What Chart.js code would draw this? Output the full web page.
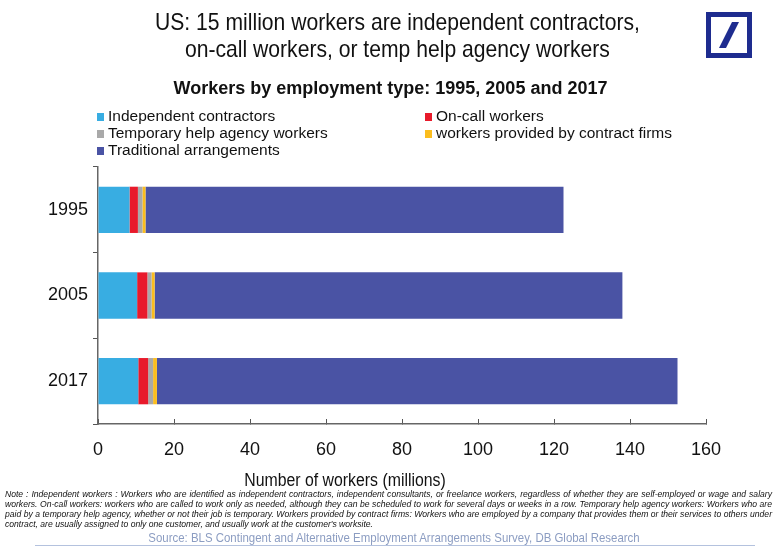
<!DOCTYPE html>
<html>
<head>
<meta charset="utf-8">
<script src="https://cdn.jsdelivr.net/npm/chart.js@4"></script>
<style>
  body { margin: 0; background: #fff; }
  #wrap { position: relative; width: 777px; height: 546px; overflow: hidden; font-family: "Liberation Sans Narrow", "Arial Narrow", "Liberation Sans", Arial, sans-serif; color: #111; }
  #chart { position: absolute; left: 0; top: 0; }
  .title { position: absolute; left: 0; width: 795px; top: 8px; text-align: center; font-size: 24px; line-height: 27px; transform: scaleX(0.88); transform-origin: 397px 0; }
  .subtitle { position: absolute; left: 0; width: 781px; top: 78px; text-align: center; font-size: 18px; font-weight: bold; }
  .leg { position: absolute; font-size: 15.5px; line-height: 17px; white-space: nowrap; }
  .leg i { display: inline-block; width: 7px; height: 8px; margin-right: 4px; }
  .note { position: absolute; left: 5px; top: 489px; width: 767px; font-size: 8.6px; line-height: 10px; font-style: italic; text-align: justify; }
  .source { position: absolute; left: 0; width: 788px; top: 530px; text-align: center; font-size: 13px; color: #8c9dc2; transform: scaleX(0.88); transform-origin: 394px 0; }
  .rule { position: absolute; left: 35px; width: 720px; top: 545px; height: 1px; background: #b4c2de; }
  .logo { position: absolute; left: 706px; top: 12px; }
</style>
</head>
<body>
<div id="wrap">
  <canvas id="chart" width="777" height="546"></canvas>
  <div class="title">US: 15 million workers are independent contractors,<br>on-call workers, or temp help agency workers</div>
  <div class="subtitle">Workers by employment type: 1995, 2005 and 2017</div>
  <div id="legend"></div>
  <div class="note">Note : Independent workers : Workers who are identified as independent contractors, independent consultants, or freelance workers, regardless of whether they are self-employed or wage and salary workers. On-call workers: workers who are called to work only as needed, although they can be scheduled to work for several days or weeks in a row. Temporary help agency workers: Workers who are paid by a temporary help agency, whether or not their job is temporary. Workers provided by contract firms: Workers who are employed by a company that provides them or their services to others under contract, are usually assigned to only one customer, and usually work at the customer's worksite.</div>
  <div class="source">Source: BLS Contingent and Alternative Employment Arrangements Survey, DB Global Research</div>
  <div class="rule"></div>
  <svg class="logo" width="46" height="46" viewBox="0 0 46 46">
    <rect x="2.5" y="2.5" width="41" height="41" fill="none" stroke="#1e2c8f" stroke-width="5"/>
    <polygon points="26,10 33,10 20,36 13,36" fill="#1e2c8f"/>
  </svg>
</div>
<script>
// Data (millions of workers)
const years = ['1995', '2005', '2017'];
const independentContractors = [8.3, 10.3, 10.6];
const onCallWorkers = [2.2, 2.7, 2.6];
const tempAgencyWorkers = [1.2, 1.1, 1.3];
const contractFirmWorkers = [0.8, 0.8, 1.0];
const traditionalArrangements = [110.0, 123.1, 137.0];
const xTicks = [0, 20, 40, 60, 80, 100, 120, 140, 160];

const seriesNames = ['Independent contractors', 'On-call workers', 'Temporary help agency workers', 'workers provided by contract firms', 'Traditional arrangements'];
const seriesValues = [independentContractors, onCallWorkers, tempAgencyWorkers, contractFirmWorkers, traditionalArrangements];
const seriesColors = ['#38ade2', '#e81a2b', '#a9a9a9', '#fbbd1e', '#4a53a4'];

// legend laid out in two columns like the original
const legendPos = [[97, 107], [425, 107], [97, 124], [425, 124], [97, 141]];
const legendEl = document.getElementById('legend');
seriesNames.forEach(function (name, i) {
    const d = document.createElement('div');
    d.className = 'leg';
    d.style.left = legendPos[i][0] + 'px';
    d.style.top = legendPos[i][1] + 'px';
    d.innerHTML = '<i style="background:' + seriesColors[i] + '"></i>' + name;
    legendEl.appendChild(d);
});

const font = "'Liberation Sans Narrow', 'Arial Narrow', 'Liberation Sans', Arial, sans-serif";

// x-axis title sits off-centre in the original, so draw it ourselves (squeezed like Arial Narrow)
const axisTitle = {
    id: 'axisTitle',
    afterDraw(chart) {
        const ctx = chart.ctx;
        ctx.save();
        ctx.translate(345, 481);
        ctx.scale(0.88, 1);
        ctx.font = '18px ' + font;
        ctx.fillStyle = '#111';
        ctx.textAlign = 'center';
        ctx.textBaseline = 'middle';
        ctx.fillText('Number of workers (millions)', 0, 0);
        ctx.restore();
    }
};

new Chart(document.getElementById('chart').getContext('2d'), {
    type: 'bar',
    data: {
        labels: years,
        datasets: seriesNames.map(function (name, i) {
            return {
                label: name,
                data: seriesValues[i],
                backgroundColor: seriesColors[i],
                borderWidth: 0,
                categoryPercentage: 1,
                barPercentage: 0.54
            };
        })
    },
    options: {
        indexAxis: 'y',
        responsive: false,
        animation: false,
        layout: { padding: { top: 167, right: 71, bottom: 52, left: 0 } },
        plugins: { legend: { display: false }, tooltip: { enabled: false } },
        scales: {
            x: {
                stacked: true,
                min: 0, max: 160,
                afterBuildTicks(scale) { scale.ticks = xTicks.map(v => ({ value: v })); },
                afterFit(scale) { scale.height = 70; },
                border: { color: '#666', width: 1.5 },
                grid: { drawOnChartArea: false, tickLength: -5, color: '#555' },
                ticks: { padding: 20, color: '#111', font: { family: font, size: 18 } }
            },
            y: {
                stacked: true,
                afterFit(scale) { scale.width = 98; },
                border: { color: '#666', width: 1.5 },
                grid: { drawOnChartArea: false, tickLength: 5, color: '#555' },
                ticks: { padding: 5, color: '#111', font: { family: font, size: 18 } }
            }
        }
    },
    plugins: [axisTitle]
});
</script>
</body>
</html>
